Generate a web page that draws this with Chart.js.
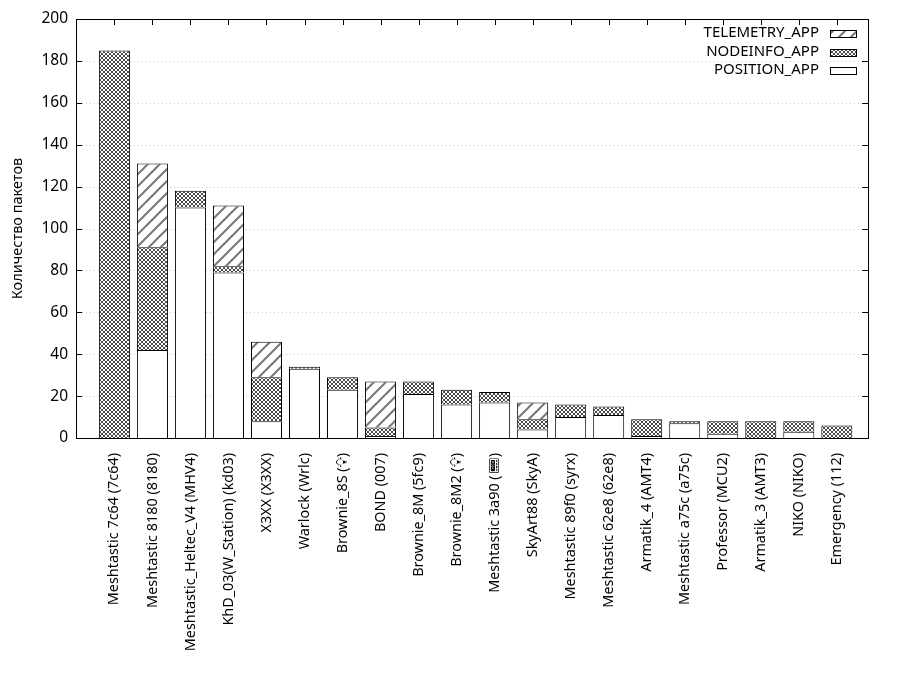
<!DOCTYPE html>
<html>
<head>
<meta charset="utf-8">
<script src="https://cdn.jsdelivr.net/npm/chart.js@4.4.1/dist/chart.umd.min.js"></script>
<style>
html, body { margin: 0; padding: 0; background: #fff; }
#wrap { width: 900px; height: 700px; }
</style>
</head>
<body>
<div id="wrap"><canvas id="packetsChart" width="900" height="700"></canvas></div>
<script>
// ---- data ----
const nodes = [
    "Meshtastic 7c64 (7c64)", "Meshtastic 8180 (8180)", "Meshtastic_Heltec_V4 (MHV4)",
    "KhD_03(W_Station) (kd03)", "X3XX (X3XX)", "Warlock (Wrlc)", "Brownie_8S (💡\uFE0E)",
    "BOND (007)", "Brownie_8M (5fc9)", "Brownie_8M2 (💡\uFE0E)", "Meshtastic 3a90 (📟\uFE0E)",
    "SkyArt88 (SkyA)", "Meshtastic 89f0 (syrx)", "Meshtastic 62e8 (62e8)", "Armatik_4 (AMT4)",
    "Meshtastic a75c (a75c)", "Professor (MCU2)", "Armatik_3 (AMT3)", "NIKO (NIKO)", "Emergency (112)"
];
const positionApp  = [0, 42, 110, 79, 8, 33, 23, 1, 21, 16, 17, 4, 10, 11, 1, 7, 2, 0, 3, 0];
const nodeinfoApp  = [185, 49, 8, 3, 21, 1, 6, 4, 6, 7, 5, 5, 6, 4, 8, 1, 6, 8, 5, 6];
const telemetryApp = [0, 40, 0, 29, 17, 0, 0, 22, 0, 0, 0, 8, 0, 0, 0, 0, 0, 0, 0, 0];
const yTicks = [0, 20, 40, 60, 80, 100, 120, 140, 160, 180, 200];

// ---- fill patterns ----
function crossHatch() {
    const c = document.createElement("canvas");
    c.width = 4; c.height = 4;
    const g = c.getContext("2d");
    g.fillStyle = "#fff";
    g.fillRect(0, 0, 4, 4);
    g.fillStyle = "#4a4a4a";
    for (let i = 0; i < 4; i++) {
        g.fillRect(i, i, 1, 1);
        g.fillRect(3 - i, i, 1, 1);
    }
    return g.createPattern(c, "repeat");
}

function diagHatch() {
    const c = document.createElement("canvas");
    c.width = 12; c.height = 12;
    const g = c.getContext("2d");
    g.fillStyle = "#fff";
    g.fillRect(0, 0, 12, 12);
    g.strokeStyle = "#777";
    g.lineWidth = 2;
    g.beginPath();
    g.moveTo(0, 12); g.lineTo(12, 0);
    g.moveTo(-6, 6); g.lineTo(6, -6);
    g.moveTo(6, 18); g.lineTo(18, 6);
    g.stroke();
    return g.createPattern(c, "repeat");
}

// empty segments are left out so no flat bar is drawn
function toPoints(arr) {
    return arr.map((v, i) => ({ x: i, y: v })).filter(p => p.y > 0);
}

// ---- gnuplot-like frame, grid, ticks, legend ----
const framePlugin = {
    id: "frame",
    beforeDatasetsDraw(chart) {
        const { ctx, chartArea: a, scales: { x, y } } = chart;
        ctx.save();
        // dotted grid
        ctx.strokeStyle = "#c8c8c8";
        ctx.lineWidth = 1;
        ctx.setLineDash([1, 3]);
        yTicks.forEach(v => {
            if (v === 0 || v === 200) return;
            const py = Math.round(y.getPixelForValue(v)) + 0.5;
            ctx.beginPath();
            ctx.moveTo(a.left + 6, py);
            ctx.lineTo(a.right - 6, py);
            ctx.stroke();
        });
        ctx.setLineDash([]);
        // inward ticks
        ctx.strokeStyle = "#000";
        yTicks.forEach(v => {
            const py = Math.round(y.getPixelForValue(v)) + 0.5;
            ctx.beginPath();
            ctx.moveTo(a.left, py); ctx.lineTo(a.left + 6, py);
            ctx.moveTo(a.right, py); ctx.lineTo(a.right - 6, py);
            ctx.stroke();
        });
        nodes.forEach((n, i) => {
            const px = Math.round(x.getPixelForValue(i)) + 0.5;
            ctx.beginPath();
            ctx.moveTo(px, a.bottom); ctx.lineTo(px, a.bottom - 6);
            ctx.moveTo(px, a.top); ctx.lineTo(px, a.top + 6);
            ctx.stroke();
        });
        ctx.restore();
    },
    afterDatasetsDraw(chart) {
        const { ctx, chartArea: a } = chart;
        ctx.save();
        ctx.strokeStyle = "#000";
        ctx.lineWidth = 1;
        ctx.strokeRect(Math.round(a.left) + 0.5, Math.round(a.top) + 0.5,
            Math.round(a.right - a.left), Math.round(a.bottom - a.top));

        // legend, top entry = top of stack
        const ds = chart.data.datasets.slice().reverse();
        ctx.font = "15px 'Noto Sans', sans-serif";
        ctx.textAlign = "right";
        ctx.textBaseline = "middle";
        ds.forEach((d, i) => {
            const cy = a.top + 14 + i * 18.5;
            ctx.fillStyle = "#000";
            ctx.fillText(d.label, a.right - 49, cy);
            const bx = a.right - 38, by = Math.round(cy - 3) + 0.5;
            ctx.fillStyle = d.backgroundColor;
            ctx.fillRect(bx, by, 26, 7);
            ctx.strokeStyle = "#000";
            ctx.strokeRect(bx + 0.5, by, 26, 7);
        });
        ctx.restore();
    }
};

Chart.defaults.font.family = "'Noto Sans', 'DejaVu Sans', sans-serif";
Chart.defaults.font.size = 14;
Chart.defaults.color = "#000";

const barStyle = { borderColor: "#000", borderWidth: 1, borderSkipped: "start",
    categoryPercentage: 1.0, barPercentage: 0.816 };

new Chart(document.getElementById("packetsChart"), {
    type: "bar",
    data: {
        datasets: [
            { label: "POSITION_APP", data: toPoints(positionApp), backgroundColor: "#fff", ...barStyle },
            { label: "NODEINFO_APP", data: toPoints(nodeinfoApp), backgroundColor: crossHatch(), ...barStyle },
            { label: "TELEMETRY_APP", data: toPoints(telemetryApp), backgroundColor: diagHatch(), ...barStyle }
        ]
    },
    options: {
        responsive: false,
        animation: false,
        layout: { padding: { top: 19, right: 32, left: 0, bottom: 0 } },
        plugins: { legend: { display: false }, tooltip: { enabled: false } },
        scales: {
            x: {
                type: "linear",
                stacked: true,
                offset: false,
                min: -1.01,
                max: 19.82,
                grid: { display: false, drawTicks: false, offset: false },
                border: { display: false },
                afterBuildTicks: s => { s.ticks = nodes.map((n, i) => ({ value: i })); },
                afterFit: s => { s.height = 262; },
                ticks: {
                    autoSkip: false,
                    minRotation: 90,
                    maxRotation: 90,
                    padding: 15,
                    font: { size: 14.4 },
                    callback: v => nodes[v]
                }
            },
            y: {
                stacked: true,
                min: 0,
                max: 200,
                grid: { display: false, drawTicks: false },
                border: { display: false },
                afterBuildTicks: s => { s.ticks = yTicks.map(v => ({ value: v })); },
                afterFit: s => { s.width = 76; },
                ticks: { padding: 8, font: { size: 15.5 } },
                title: {
                    display: true,
                    text: "Количество пакетов",
                    font: { size: 14.5 },
                    padding: { top: 9, bottom: 0 }
                }
            }
        }
    },
    plugins: [framePlugin]
});
</script>
</body>
</html>
